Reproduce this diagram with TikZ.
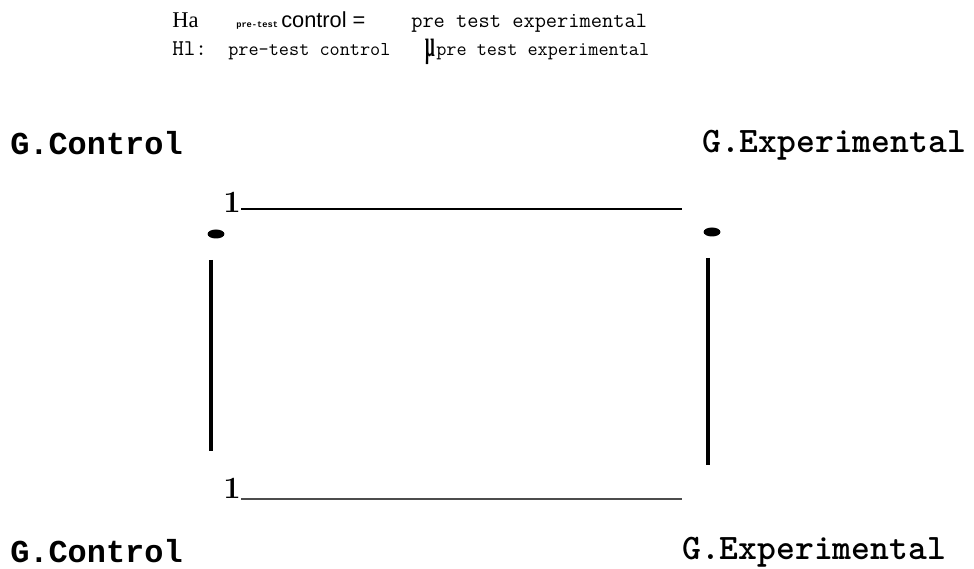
\documentclass[tikz,border=0pt]{standalone}
\usepackage{fontspec}
\usetikzlibrary{positioning, shapes.geometric}
\newfontfamily\courfont{Liberation Mono}
\newfontfamily\timesfont{Liberation Serif}
\newfontfamily\arialfont{Liberation Sans}

\begin{document}
\begin{tikzpicture}[x=0.025cm, y=-0.025cm,
  lbl/.style={inner sep=0pt, anchor=base west},
  grp/.style={lbl, font=\courfont\bfseries\fontsize{22.7}{24}\selectfont},
  expt/.style={lbl, font=\ttfamily\bfseries\fontsize{25.5}{27}\selectfont},
  hyp/.style={lbl, font=\ttfamily\fontsize{14}{16}\selectfont},
  one/.style={inner sep=0pt, anchor=base east, font=\rmfamily\bfseries\fontsize{22}{24}\selectfont},
  dot/.style={ellipse, fill, inner sep=0pt, minimum width=12pt, minimum height=6.4pt},
  bar/.style={line width=2.2pt}]

\useasboundingbox (0,0) rectangle (974,569);

% hypotheses
\node[lbl, font=\timesfont\fontsize{16}{18}\selectfont] (ha) at (172,28) {Ha};
\node[lbl, font=\courfont\bfseries\fontsize{6.2}{7}\selectfont] (haPre) at (236,28) {pre-test};
\node[lbl, font=\arialfont\fontsize{15.5}{17}\selectfont] (haCtl) at (281,28) {control =};
\node[hyp, font=\ttfamily\fontsize{15.5}{17}\selectfont] (haExp) at (411,28) {pre test experimental};

\node[lbl, font=\ttfamily\fontsize{16}{18}\selectfont] (hl) at (172,56) {Hl:};
\node[hyp] (hlCtl) at (228,56) {pre-test control};
\node[lbl, xscale=0.45, text height=11pt, text depth=5pt,
  font=\timesfont\bfseries\fontsize{27}{27}\selectfont] (mu) at (425,57) {μ};
\node[hyp] (hlExp) at (436,56) {pre test experimental};

% groups
\node[grp] (gcT) at (10,155) {G.Control};
\node[expt] (geT) at (702,153) {G.Experimental};
\node[grp] (gcB) at (10,563) {G.Control};
\node[expt] (geB) at (682,560) {G.Experimental};

% pre-test lines
\node[one] (oneT) at (241,213) {1};
\node[one] (oneB) at (241,499) {1};
\coordinate (tEnd) at (682,209);
\coordinate (bEnd) at (682,499);
\draw[line width=1pt] (oneT.base east) ++(0,-4) -- (tEnd);
\draw[line width=0.9pt, black!70] (oneB.base east) -- (bEnd);

\node[dot] (dotC) at (216,234) {};
\node[dot] (dotE) at (712,232) {};

\coordinate (cTop) at (211,260);
\coordinate (cBot) at (211,451);
\coordinate (eTop) at (708,258);
\coordinate (eBot) at (708,465);
\draw[bar] (cTop) -- (cBot);
\draw[bar, line width=2.6pt] (eTop) -- (eBot);
\end{tikzpicture}
\end{document}
